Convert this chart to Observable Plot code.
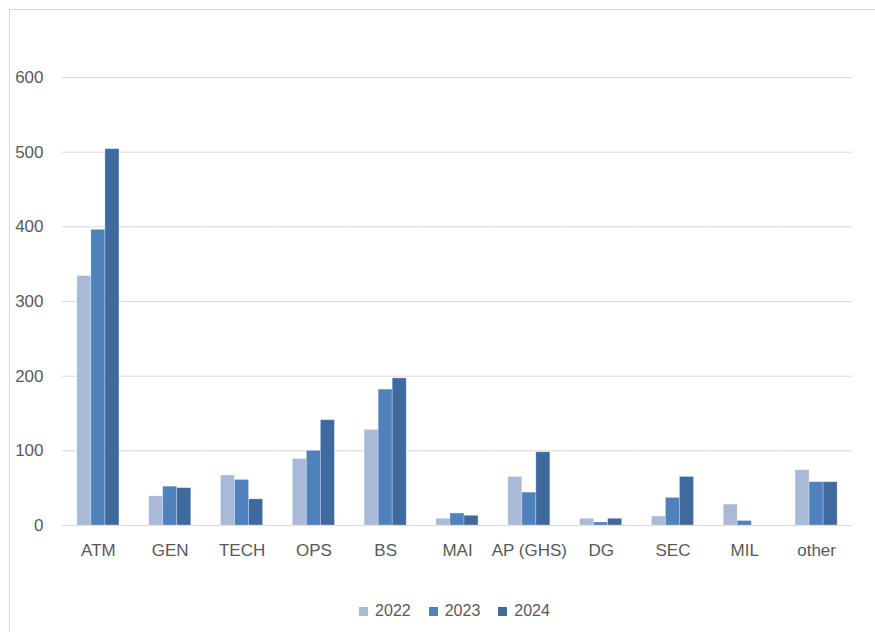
<!DOCTYPE html>
<html>
<head>
<meta charset="utf-8">
<script src="https://cdn.jsdelivr.net/npm/d3@7"></script>
<script src="https://cdn.jsdelivr.net/npm/@observablehq/plot@0.6"></script>
<style>
  html, body { margin: 0; padding: 0; background: #fff; }
  body { width: 875px; height: 632px; position: relative; overflow: hidden;
         font-family: "Liberation Sans", Arial, sans-serif; }
  #frame { position: absolute; left: 9px; top: 9px; width: 900px; height: 700px;
           border-left: 1px solid #d9d9d9; border-top: 1px solid #d9d9d9; }
  #chart { position: absolute; left: 0; top: 0; }
  #legend { position: absolute; left: 17px; top: 602px; width: 875px; display: flex;
            justify-content: center; gap: 18px; font-size: 16px; color: #595959; }
  .item { display: flex; align-items: center; gap: 7px; }
  .sw { width: 9px; height: 9px; display: inline-block; }
</style>
</head>
<body>
<div id="frame"></div>
<div id="chart"></div>
<div id="legend"></div>
<script>
// Occurrence counts per category, by year
const categories = ["ATM", "GEN", "TECH", "OPS", "BS", "MAI", "AP (GHS)", "DG", "SEC", "MIL", "other"];
const years = ["2022", "2023", "2024"];
const v2022 = [334, 39, 67, 89, 128, 9, 65, 9, 12, 28, 74];
const v2023 = [396, 52, 61, 100, 182, 16, 44, 4, 37, 6, 58];
const v2024 = [504, 50, 35, 141, 197, 13, 98, 9, 65, 0, 58];
const yTicks = [0, 100, 200, 300, 400, 500, 600];
const colors = ["#a9b9d8", "#4f81bd", "#3e6a9e"];

const series = [v2022, v2023, v2024];
const rows = [];
categories.forEach((c, i) => {
  years.forEach((y, j) => rows.push({category: c, year: y, value: series[j][i]}));
});

const chart = Plot.plot({
  width: 875,
  height: 575,
  marginTop: 77,
  marginBottom: 50,
  marginLeft: 62,
  marginRight: 23,
  style: {fontSize: "17px", color: "#595959", fontFamily: "'Liberation Sans', Arial, sans-serif", background: "transparent"},
  fx: {domain: categories, padding: 0, round: false, label: null, tickSize: 0, tickPadding: 18},
  x: {domain: years, paddingInner: 0, paddingOuter: 1.06, round: false, axis: null},
  y: {domain: [0, 600], ticks: yTicks, tickSize: 0, tickPadding: 19, label: null},
  color: {domain: years, range: colors},
  facet: {data: rows, x: "category"},
  marks: [
    Plot.ruleY(yTicks, {stroke: "#d9d9d9", strokeWidth: 1}),
    Plot.barY(rows, {x: "year", y: "value", fill: "year", inset: 0,
                     stroke: "#ffffff", strokeOpacity: 0.35, strokeWidth: 0.8})
  ]
});
document.getElementById("chart").appendChild(chart);

// Legend below the chart
const legend = document.getElementById("legend");
years.forEach((y, j) => {
  const item = document.createElement("div");
  item.className = "item";
  const sw = document.createElement("span");
  sw.className = "sw";
  sw.style.background = colors[j];
  const t = document.createElement("span");
  t.textContent = y;
  item.appendChild(sw);
  item.appendChild(t);
  legend.appendChild(item);
});
</script>
</body>
</html>
